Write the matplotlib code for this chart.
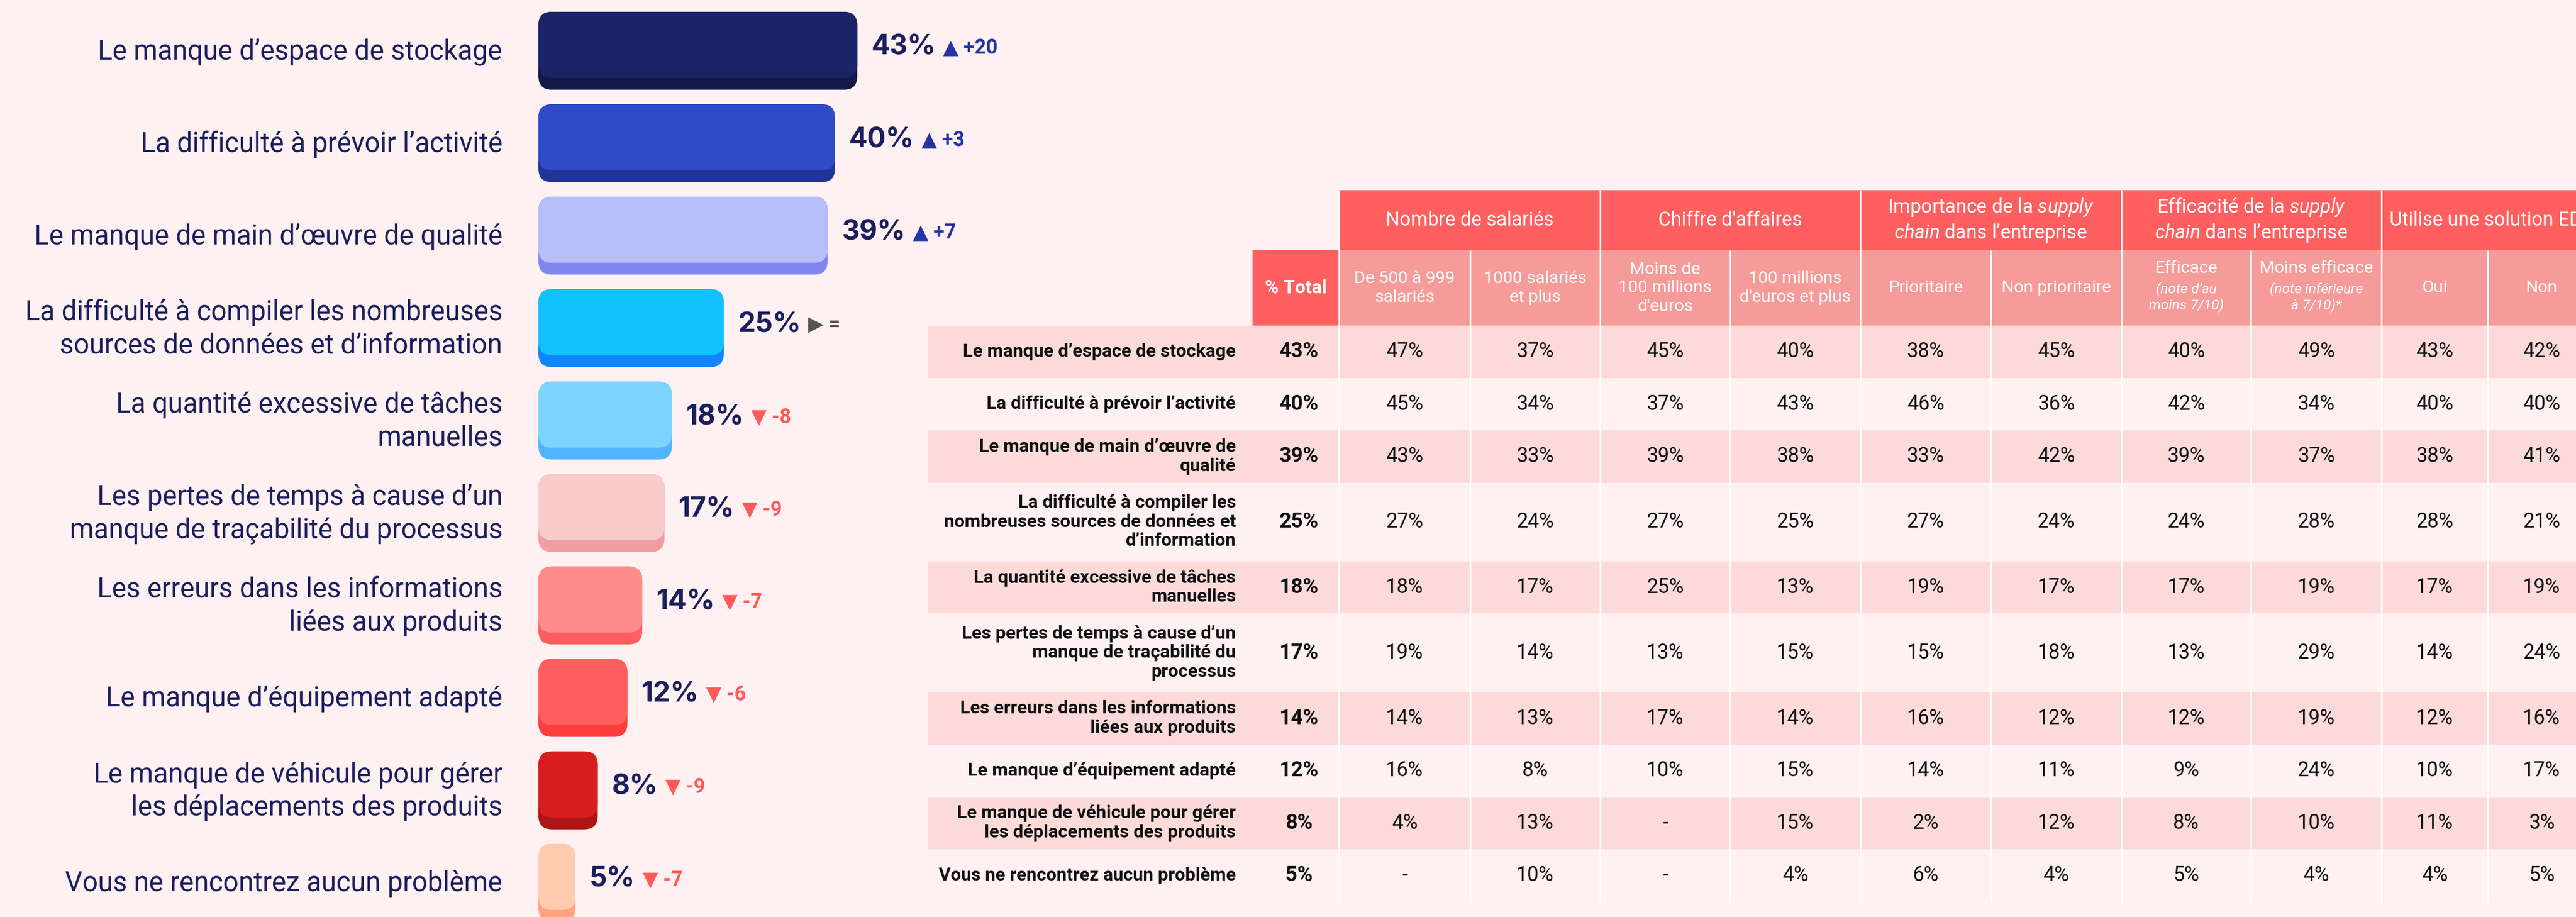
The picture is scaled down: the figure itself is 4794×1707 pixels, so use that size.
import matplotlib
matplotlib.use("Agg")
import matplotlib.pyplot as plt
from matplotlib.patches import FancyBboxPatch, Rectangle
from matplotlib import font_manager


def police(nom, secours="DejaVu Sans"):
    try:
        font_manager.findfont(font_manager.FontProperties(family=nom), fallback_to_default=False)
        return nom
    except ValueError:
        return secours


# ---------------- données ----------------
problemes = [
    "Le manque d’espace de stockage",
    "La difficulté à prévoir l’activité",
    "Le manque de main d’œuvre de qualité",
    "La difficulté à compiler les nombreuses\nsources de données et d’information",
    "La quantité excessive de tâches\nmanuelles",
    "Les pertes de temps à cause d’un\nmanque de traçabilité du processus",
    "Les erreurs dans les informations\nliées aux produits",
    "Le manque d’équipement adapté",
    "Le manque de véhicule pour gérer\nles déplacements des produits",
    "Vous ne rencontrez aucun problème",
]
totaux = [43, 40, 39, 25, 18, 17, 14, 12, 8, 5]
evolutions = [20, 3, 7, 0, -8, -9, -7, -6, -9, -7]

lignes_tableau = [
    "Le manque d’espace de stockage",
    "La difficulté à prévoir l’activité",
    "Le manque de main d’œuvre de\nqualité",
    "La difficulté à compiler les\nnombreuses sources de données et\nd’information",
    "La quantité excessive de tâches\nmanuelles",
    "Les pertes de temps à cause d’un\nmanque de traçabilité du\nprocessus",
    "Les erreurs dans les informations\nliées aux produits",
    "Le manque d’équipement adapté",
    "Le manque de véhicule pour gérer\nles déplacements des produits",
    "Vous ne rencontrez aucun problème",
]

groupes = [
    "Nombre de salariés",
    "Chiffre d'affaires",
    "Importance de la $\\mathit{supply}$\n$\\mathit{chain}$ dans l’entreprise",
    "Efficacité de la $\\mathit{supply}$\n$\\mathit{chain}$ dans l’entreprise",
    "Utilise une solution EDI",
]
sous_colonnes = [
    "De 500 à 999\nsalariés", "1000 salariés\net plus",
    "Moins de\n100 millions\nd'euros", "100 millions\nd'euros et plus",
    "Prioritaire", "Non prioritaire",
    "Efficace", "Moins efficace",
    "Oui", "Non",
]
notes = [None, None, None, None, None, None,
         "(note d’au\nmoins 7/10)", "(note inférieure\nà 7/10)*", None, None]

# None = "-"
valeurs = [
    [47, 37, 45, 40, 38, 45, 40, 49, 43, 42],
    [45, 34, 37, 43, 46, 36, 42, 34, 40, 40],
    [43, 33, 39, 38, 33, 42, 39, 37, 38, 41],
    [27, 24, 27, 25, 27, 24, 24, 28, 28, 21],
    [18, 17, 25, 13, 19, 17, 17, 19, 17, 19],
    [19, 14, 13, 15, 15, 18, 13, 29, 14, 24],
    [14, 13, 17, 14, 16, 12, 12, 19, 12, 16],
    [16, 8, 10, 15, 14, 11, 9, 24, 10, 17],
    [4, 13, None, 15, 2, 12, 8, 10, 11, 3],
    [None, 10, None, 4, 6, 4, 5, 4, 4, 5],
]

# ---------------- styles ----------------
FOND = "#FFF0F2"
NAVY = "#1B1F5C"
HAUSSE = "#2433A6"
BAISSE = "#FF5A5A"
NEUTRE = "#555555"
faces = ["#1A2466", "#2F4BC8", "#B5BEF7", "#12C2FF", "#7DD4FF",
         "#F8CBCB", "#FF8C8C", "#FF5E5E", "#D61E1E", "#FFCBB0"]
levres = ["#131A4A", "#22339A", "#7F86F2", "#0E86FF", "#52B4FF",
          "#F29E9E", "#FF5E5E", "#FF3D3D", "#AE1515", "#FFA47E"]
ROUGE_ENTETE = "#FF5F5F"
SAUMON = "#F59B99"
ROSE_LIGNE = "#FDDADA"

ROBOTO = police("Roboto")
INTER = police("Inter")
plt.rcParams["mathtext.fontset"] = "custom"
plt.rcParams["mathtext.rm"] = ROBOTO
plt.rcParams["mathtext.it"] = ROBOTO + ":italic"

W, H = 4794, 1707
fig = plt.figure(figsize=(W / 100, H / 100), dpi=100, facecolor=FOND)

# ---------------- tableau (coordonnées pixel) ----------------
axt = fig.add_axes([0, 0, 1, 1])
axt.set_xlim(0, W)
axt.set_ylim(H, 0)
axt.axis("off")

bords = [1727, 2331, 2492, 2736, 2978, 3220, 3462, 3705, 3948, 4189, 4432, 4630, 4830]
y_groupe, y_sous, y_corps = 354, 466, 606
unite = 48.75

hauteurs = [unite * max(2, l.count("\n") + 1) for l in lignes_tableau]
y_lignes = [y_corps]
for h in hauteurs:
    y_lignes.append(y_lignes[-1] + h)
y_fin = y_lignes[-1]

for i, h in enumerate(hauteurs):
    if i % 2 == 0:
        axt.add_patch(Rectangle((bords[0], y_lignes[i]), bords[-1] - bords[0], h,
                                fc=ROSE_LIGNE, ec="none"))

axt.add_patch(Rectangle((bords[2], y_groupe), bords[-1] - bords[2], y_sous - y_groupe,
                        fc=ROUGE_ENTETE, ec="none"))
axt.add_patch(Rectangle((bords[2], y_sous), bords[-1] - bords[2], y_corps - y_sous,
                        fc=SAUMON, ec="none"))
axt.add_patch(Rectangle((bords[1], y_sous), bords[2] - bords[1], y_corps - y_sous,
                        fc=ROUGE_ENTETE, ec="none"))

# séparateurs blancs
for k in range(2, len(bords) - 1):
    debut = y_groupe if (k - 2) % 2 == 0 else y_sous
    axt.plot([bords[k], bords[k]], [debut, y_fin], color="white", lw=2.2, solid_capstyle="butt")

axt.text((bords[1] + bords[2]) / 2, (y_sous + y_corps) / 2, "% Total", color="white",
         fontsize=25, fontweight="bold", family=ROBOTO, ha="center", va="center")

for g, nom in enumerate(groupes):
    xc = (bords[2 + 2 * g] + bords[4 + 2 * g]) / 2
    axt.text(xc, (y_groupe + y_sous) / 2, nom, color="white", fontsize=26, family=ROBOTO,
             ha="center", va="center", linespacing=1.25)

for j, nom in enumerate(sous_colonnes):
    xc = (bords[2 + j] + bords[3 + j]) / 2
    if notes[j] is None:
        axt.text(xc, (y_sous + y_corps) / 2, nom, color="white", fontsize=23, family=ROBOTO,
                 ha="center", va="center", linespacing=1.25)
    else:
        axt.text(xc, y_sous + 34, nom, color="white", fontsize=23, family=ROBOTO,
                 ha="center", va="center")
        axt.text(xc, y_sous + 88, notes[j], color="white", fontsize=19, family=ROBOTO,
                 style="italic", ha="center", va="center", linespacing=1.15)

for i, etiquette in enumerate(lignes_tableau):
    yc = (y_lignes[i] + y_lignes[i + 1]) / 2
    axt.text(2300, yc, etiquette, color="#111111", fontsize=24.5, fontweight="bold",
             family=ROBOTO, ha="right", va="center", multialignment="right", linespacing=1.15)
    axt.text((bords[1] + bords[2]) / 2 + 6, yc, f"{totaux[i]}%", color="#111111", fontsize=28,
             fontweight="bold", family=ROBOTO, ha="center", va="center")
    for j, v in enumerate(valeurs[i]):
        xc = (bords[2 + j] + bords[3 + j]) / 2
        axt.text(xc, yc, "-" if v is None else f"{v}%", color="#111111", fontsize=27,
                 family=ROBOTO, ha="center", va="center")

# ---------------- barres ----------------
PX_PAR_PCT = 13.8
PAS = 172.1
x0, larg = 1002, 1300
haut_barre = 145 / PAS
haut_levre = 22 / PAS
rayon = 25 / PX_PAR_PCT
aspect = PX_PAR_PCT / PAS
centre0 = 22 + 145 / 2

ax = fig.add_axes([x0 / W, 0, larg / W, 1])
ax.set_xlim(0, larg / PX_PAR_PCT)
ax.set_ylim((H - centre0) / PAS, -centre0 / PAS)
ax.axis("off")

for i, (v, d, txt) in enumerate(zip(totaux, evolutions, problemes)):
    haut = i - haut_barre / 2
    ax.add_patch(FancyBboxPatch((0, haut), v, haut_barre,
                                boxstyle=f"round,pad=0,rounding_size={rayon}",
                                mutation_aspect=aspect, fc=levres[i], ec="none"))
    ax.add_patch(FancyBboxPatch((0, haut), v, haut_barre - haut_levre,
                                boxstyle=f"round,pad=0,rounding_size={rayon}",
                                mutation_aspect=aspect, fc=faces[i], ec="none"))

    ax.annotate(txt, xy=(0, i), xytext=(-67, -2), textcoords="offset pixels",
                ha="right", va="center", multialignment="right", fontsize=36.5,
                fontweight="normal", family=ROBOTO, color=NAVY, linespacing=1.3)

    val = ax.annotate(f"{v}%", xy=(v, i), xytext=(26, 6), textcoords="offset pixels",
                      ha="left", va="center", fontsize=37, fontweight="bold",
                      family=INTER, color=NAVY)
    if d > 0:
        evo, coul = f"▲ +{d}", HAUSSE
    elif d < 0:
        evo, coul = f"▼ -{abs(d)}", BAISSE
    else:
        evo, coul = "▶ =", NEUTRE
    ax.annotate(evo, xy=(1, 0.5), xycoords=val, xytext=(14, 0), textcoords="offset pixels",
                ha="left", va="center", fontsize=27, fontweight="bold",
                family=[ROBOTO, "DejaVu Sans"], color=coul)

fig.savefig("out.png", dpi=100, facecolor=FOND)
